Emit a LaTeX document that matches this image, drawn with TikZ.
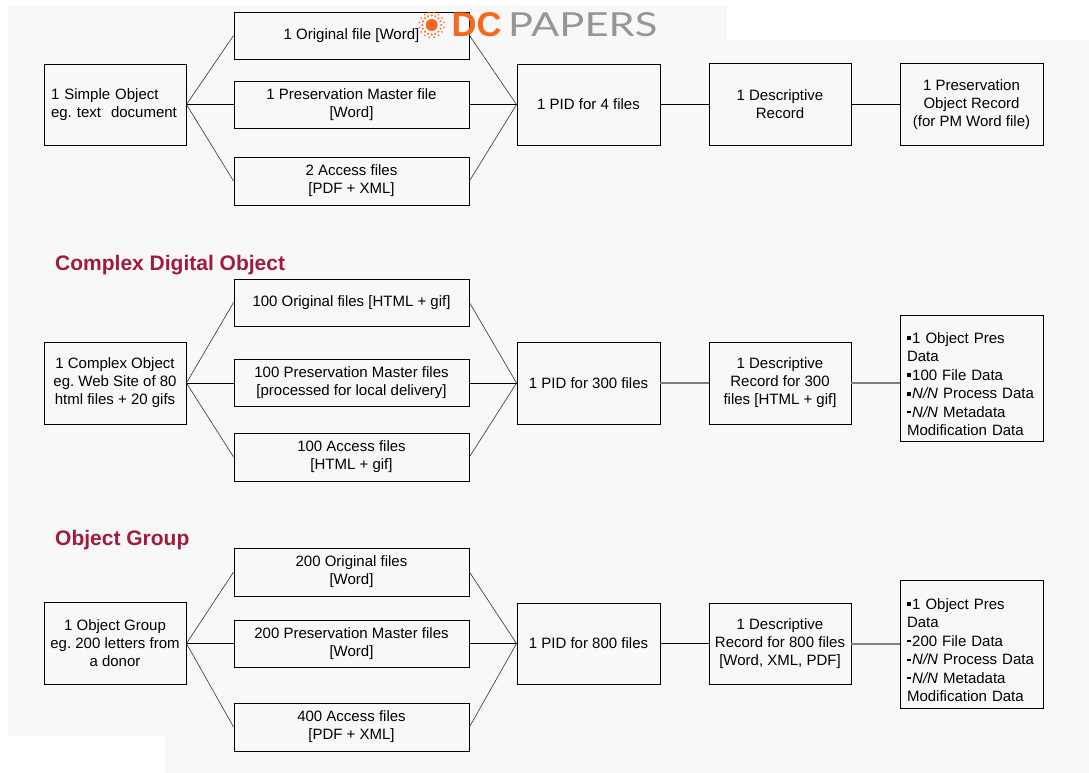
\documentclass[tikz,border=0pt]{standalone}
\usepackage{fontspec}
\setmainfont{Liberation Sans}
\newfontfamily\logofont{Lato}
\usepackage{graphicx}
\frenchspacing
\definecolor{bgc}{RGB}{248,248,248}
\definecolor{crim}{RGB}{160,28,62}
\definecolor{dcorange}{RGB}{246,104,30}
\definecolor{dcgray}{RGB}{150,150,150}
\definecolor{conn}{RGB}{128,128,128}
\newcommand{\sqbul}{\raisebox{3pt}{\rule{4pt}{4pt}}\hspace{1.2pt}}
\newcommand{\dashbul}{\raisebox{4pt}{\rule{4pt}{1.8pt}}\hspace{1.2pt}}
\newcommand{\firstline}{\rule{0pt}{23pt}}
\begin{document}
\begin{tikzpicture}[x=1pt,y=-1pt,
  box/.style={draw=black, line width=0.9pt, inner sep=0pt, align=center,
    font=\fontsize{15}{18}\selectfont\frenchspacing},
  midbox/.style={box, minimum width=235pt, minimum height=47pt},
  sidebox/.style={box, minimum width=142pt, minimum height=81pt},
  leftbox/.style={box, align=left, inner xsep=7pt, minimum height=81pt, text width=128pt},
  databox/.style={box, align=left, inner xsep=7pt, text width=129pt,
    font=\fontsize{15}{18.4}\selectfont},
  diag/.style={draw=black!80, line width=0.6pt},
  hline/.style={draw=black, line width=0.9pt},
  gline/.style={draw=conn, line width=2pt},
  title/.style={anchor=base west, inner sep=0pt, text=crim,
    font=\fontsize{21}{24}\selectfont\bfseries}
]
\useasboundingbox (0,0) rectangle (1089,773);
\fill[bgc] (8,5) rectangle (1089,773);
\fill[white] (727,0) rectangle (1089,40);
\fill[white] (0,735.5) rectangle (165,773);

% ---------- Row 1 ----------
\node[leftbox] (so1) at (115,104.5) {\mbox{1 Simple Object}\\\mbox{eg. text\ \ document}};
\node[midbox] (orig1) at (351.5,35.5) {1 Original file [Word]};
\node[midbox] (pm1) at (351.5,104.5) {1 Preservation Master file\\{}[Word]};
\node[midbox, minimum height=48pt] (acc1) at (351.5,181) {2 Access files\\{}[PDF + XML]};
\node[sidebox, minimum width=143pt] (pid1) at (588.5,104.5) {1 PID for 4 files};
\node[sidebox, minimum height=82pt] (desc1) at (780,104.5) {1 Descriptive\\Record};
\node[sidebox, minimum width=143pt, minimum height=82pt] (por1) at (971.5,104.5) {1 Preservation\\Object Record\\(for PM Word file)};

\draw[diag] (so1.east) -- (orig1.west);
\draw[hline] (so1.east) -- (pm1.west);
\draw[diag] (so1.east) -- (acc1.west);
\draw[diag] (orig1.east) -- (pid1.west);
\draw[hline] (pm1.east) -- (pid1.west);
\draw[diag] (acc1.east) -- (pid1.west);
\draw[hline] (pid1.east) -- (desc1.west);
\draw[hline] (desc1.east) -- (por1.west);

% ---------- Row 2 ----------
\node[title] (t2) at (55,270) {Complex Digital Object};
\node[sidebox, minimum height=82pt] (cx) at (115,383) {1 Complex Object\\eg. Web Site of 80\\html files + 20 gifs};
\node[midbox] (orig2) at (351.5,302.5) {100 Original files [HTML + gif]};
\node[midbox] (pm2) at (351.5,383) {100 Preservation Master files\\{}[processed for local delivery]};
\node[midbox, minimum height=48pt] (acc2) at (351.5,457) {100 Access files\\{}[HTML + gif]};
\node[sidebox, minimum width=143pt, minimum height=82pt] (pid2) at (588.5,383) {1 PID for 300 files};
\node[sidebox, minimum height=82pt] (desc2) at (780,383) {1 Descriptive\\Record for 300\\files [HTML + gif]};
\node[databox, minimum height=126pt] (data2) at (971.5,378) {\firstline\sqbul 1 Object Pres\\Data\\\sqbul 100 File Data\\\sqbul\textit{N/N} Process Data\\\dashbul\textit{N/N} Metadata\\Modification Data};

\draw[diag] (cx.east) -- (orig2.west);
\draw[hline] (cx.east) -- (pm2.west);
\draw[diag] (cx.east) -- (acc2.west);
\draw[diag] (orig2.east) -- (pid2.west);
\draw[hline] (pm2.east) -- (pid2.west);
\draw[diag] (acc2.east) -- (pid2.west);
\draw[gline] (pid2.east) -- (desc2.west);
\draw[gline] (desc2.east) -- (desc2.east -| data2.west);

% ---------- Row 3 ----------
\node[title] (t3) at (55,545) {Object Group};
\node[sidebox, minimum height=82pt] (og) at (115,643.5) {1 Object Group\\eg. 200 letters from\\a donor};
\node[midbox, minimum height=48pt] (orig3) at (351.5,572) {200 Original files\\{}[Word]};
\node[midbox] (pm3) at (351.5,643.5) {200 Preservation Master files\\{}[Word]};
\node[midbox, minimum height=48pt] (acc3) at (351.5,727) {400 Access files\\{}[PDF + XML]};
\node[sidebox, minimum width=143pt] (pid3) at (588.5,643.5) {1 PID for 800 files};
\node[sidebox] (desc3) at (780,643.5) {1 Descriptive\\Record for 800 files\\{}[Word, XML, PDF]};
\node[databox, minimum height=128pt] (data3) at (971.5,644) {\firstline\sqbul 1 Object Pres\\Data\\\dashbul 200 File Data\\\dashbul\textit{N/N} Process Data\\\dashbul\textit{N/N} Metadata\\Modification Data};

\draw[diag] (og.east) -- (orig3.west);
\draw[hline] (og.east) -- (pm3.west);
\draw[diag] (og.east) -- (acc3.west);
\draw[diag] (orig3.east) -- (pid3.west);
\draw[hline] (pm3.east) -- (pid3.west);
\draw[diag] (acc3.east) -- (pid3.west);
\draw[hline] (pid3.east) -- (desc3.west);
\draw[gline] (desc3.east) -- (desc3.east -| data3.west);

% ---------- Logo ----------
\coordinate (sun) at (431.7,25);
\fill[dcorange] (sun) circle (6);
\foreach \a in {0,22.5,...,337.5} {
  \fill[dcorange] ([shift={(\a:9.5)}]sun) circle (1.1);
  \fill[dcorange] ([shift={(\a+11.25:12.5)}]sun) circle (0.9);
}
\node[anchor=south west, inner sep=0pt, text=dcorange] (dc) at (451.5,36.7)
  {\resizebox{50pt}{24pt}{\bfseries DC}};
\node[anchor=south west, inner sep=0pt, text=dcgray] (papers) at (508,36.7)
  {\resizebox{149pt}{24pt}{\logofont PAPERS}};
\end{tikzpicture}
\end{document}
